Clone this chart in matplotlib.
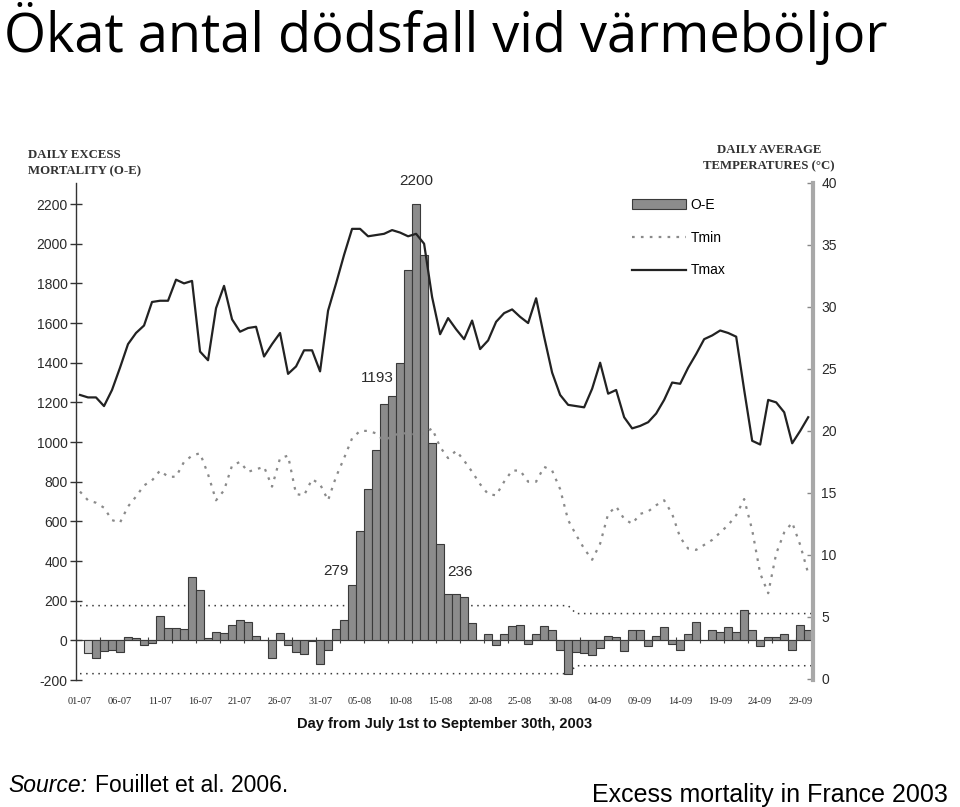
import numpy as np
import matplotlib
matplotlib.use("Agg")
import matplotlib.pyplot as plt
from matplotlib.patches import Patch
from matplotlib.lines import Line2D

plt.rcParams["axes.unicode_minus"] = False

# ======= Data =======
day_labels = ["01-07", "06-07", "11-07", "16-07", "21-07", "26-07", "31-07",
              "05-08", "10-08", "15-08", "20-08", "25-08", "30-08",
              "04-09", "09-09", "14-09", "19-09", "24-09", "29-09"]

# daily excess mortality O-E, July 1st .. September 30th
excess = [0, -64, -88, -56, -47, -57, 18, 10, -24, -13,
          125, 64, 64, 57, 317, 256, 10, 44, 37, 78,
          101, 91, 24, 0, -91, 37, -24, -61, -67, -5,
          -118, -47, 57, 104, 279, 549, 764, 960, 1193, 1232,
          1397, 1865, 2200, 1943, 993, 485, 236, 232, 219, 88,
          0, 34, -24, 34, 71, 78, -17, 34, 71, 51,
          -47, -172, -61, -64, -74, -40, 24, 17, -54, 54,
          54, -30, 24, 67, -17, -47, 30, 91, 4, 54,
          44, 67, 40, 152, 54, -30, 17, 17, 30, -50,
          78, 51]

tmax = [22.9, 22.7, 22.7, 22.0, 23.3, 25.1, 27.0, 27.9, 28.5, 30.4,
        30.5, 30.5, 32.2, 31.9, 32.1, 26.4, 25.7, 29.9, 31.7, 29.0,
        28.0, 28.3, 28.4, 26.0, 27.0, 27.9, 24.6, 25.2, 26.5, 26.5,
        24.8, 29.7, 31.9, 34.2, 36.3, 36.3, 35.7, 35.8, 35.9, 36.2,
        36.0, 35.7, 35.9, 35.1, 30.8, 27.8, 29.1, 28.2, 27.4, 28.9,
        26.6, 27.3, 28.8, 29.5, 29.8, 29.2, 28.7, 30.7, 27.6, 24.7,
        22.9, 22.1, 22.0, 21.9, 23.4, 25.5, 23.0, 23.3, 21.1, 20.2,
        20.4, 20.7, 21.4, 22.5, 23.9, 23.8, 25.1, 26.2, 27.4, 27.7,
        28.1, 27.9, 27.6, 23.3, 19.2, 18.9, 22.5, 22.3, 21.5, 19.0,
        20.0, 21.1]

tmin = [15.1, 14.4, 14.2, 13.8, 12.8, 12.6, 13.9, 14.7, 15.6, 16.0,
        16.8, 16.3, 16.3, 17.5, 18.0, 18.2, 16.5, 14.4, 15.2, 17.2,
        17.5, 16.7, 16.9, 17.1, 15.5, 17.8, 18.0, 14.9, 14.8, 16.1,
        15.7, 14.4, 16.3, 17.8, 19.4, 20.0, 20.0, 19.8, 19.2, 19.6,
        19.8, 19.8, 19.7, 19.8, 20.2, 18.7, 17.8, 18.4, 17.6, 16.7,
        15.7, 14.9, 14.8, 15.9, 16.8, 16.8, 15.9, 15.9, 17.1, 16.8,
        15.3, 12.8, 11.6, 10.5, 9.6, 10.9, 13.3, 13.9, 12.9, 12.5,
        13.3, 13.5, 14.0, 14.4, 13.3, 11.4, 10.5, 10.4, 10.8, 11.2,
        11.8, 12.4, 13.2, 14.5, 12.0, 8.5, 6.9, 10.1, 11.8, 12.6,
        10.8, 8.5]

# expected-mortality limits, two periods (summer / September)
upper_limit = [175, 135]
lower_limit = [-168, -128]
limit_switch_day = 61

annotated_days = [34, 38, 42, 46]

# ======= Figure =======
days = np.arange(len(excess))
x_end = 91.6

fig = plt.figure(figsize=(9.6, 8.07), dpi=100)
W, H = 960, 807

fig.text(4 / W, 1 - 52 / H, "Ökat antal dödsfall vid värmeböljor",
         fontsize=39, family="Open Sans", va="baseline", ha="left", color="black")

ax = fig.add_axes([76 / W, 1 - 680 / H, (813 - 76) / W, (680 - 183) / H])
ax2 = ax.twinx()

sans = "Liberation Sans"
serif = "Liberation Serif"
txt = "#2a2a2a"

# ---- bars
bars = ax.bar(days[1:], excess[1:], width=1.0, color="#8c8c8c",
              edgecolor="#3a3a3a", linewidth=0.8, zorder=2)
bars[0].set_facecolor("#c9c9c9")
ax.axhline(0, color="#444444", lw=0.8, zorder=1)
small_ticks = np.arange(-0.5, x_end, 3)[1:]
ax.plot(small_ticks, np.zeros(len(small_ticks)), ls="none", marker="|",
        ms=5, mew=0.8, color="#444444", zorder=1)

# ---- limit lines
lim_x = [0, limit_switch_day, limit_switch_day + 1, x_end]
ax.plot(lim_x, [upper_limit[0], upper_limit[0], upper_limit[1], upper_limit[1]],
        color="#3a3a3a", lw=1.1, ls=(0, (1, 3)), zorder=1)
ax.plot(lim_x, [lower_limit[0], lower_limit[0], lower_limit[1], lower_limit[1]],
        color="#3a3a3a", lw=1.1, ls=(0, (1, 3)), zorder=1)

# ---- temperatures
tmin_style = dict(color="#8a8a8a", lw=1.6, ls=(0, (1.2, 2.8)))
ax2.plot(days, tmin, **tmin_style)
ax2.plot(days, tmax, color="#222222", lw=1.6)

# ---- annotations
offsets = {34: (-16, 14), 38: (-7, 26), 42: (0, 23), 46: (12, 22)}
for d in annotated_days:
    ax.annotate(str(excess[d]), (d, excess[d]), xytext=offsets[d],
                textcoords="offset pixels", ha="center", va="center",
                fontsize=11, family=sans, color=txt, zorder=5)

# ---- axes styling
ax.set_xlim(-0.5, x_end)
ax.set_ylim(-200, 2306)
ax2.set_ylim(-0.1, 40)

for s in ["top", "right", "bottom"]:
    ax.spines[s].set_visible(False)
ax.spines["left"].set_color("#333333")
ax.spines["left"].set_linewidth(1.0)
for s in ["top", "left", "bottom"]:
    ax2.spines[s].set_visible(False)
ax2.spines["right"].set_color("#a8a8a8")
ax2.spines["right"].set_linewidth(3)

ax.set_yticks(np.arange(-200, 2201, 200))
ax.tick_params(axis="y", direction="inout", length=8, width=1, color="#333333",
               labelsize=10, labelcolor=txt, pad=2)
for lab in ax.get_yticklabels():
    lab.set_family(sans)

ax.set_xticks(days[::5])
ax.set_xticklabels(day_labels, family=serif, fontsize=7.5, color=txt)
ax.tick_params(axis="x", length=0, pad=12)
ax.set_xlabel("Day from July 1st to September 30th, 2003", family=sans,
              fontsize=10.5, fontweight="bold", color="#111111", labelpad=8)

ax2.set_yticks(np.arange(0, 41, 5))
ax2.tick_params(axis="y", direction="in", length=4, width=1, color="#888888",
                labelsize=10, labelcolor=txt, pad=6)
for lab in ax2.get_yticklabels():
    lab.set_family(sans)

# ---- axis titles
fig.text(28 / W, 1 - 149 / H, "DAILY EXCESS\nMORTALITY (O-E)", family=serif,
         fontsize=9.2, fontweight="bold", color="#333333", va="top", ha="left",
         linespacing=1.45)
fig.text(769 / W, 1 - 144 / H, "DAILY AVERAGE\nTEMPERATURES (°C)", family=serif,
         fontsize=9.2, fontweight="bold", color="#333333", va="top", ha="center",
         multialignment="center", linespacing=1.45)

# ---- legend
handles = [Patch(facecolor="#8c8c8c", edgecolor="#3a3a3a", linewidth=0.8),
           Line2D([], [], **tmin_style),
           Line2D([], [], color="#222222", lw=1.6)]
ax2.legend(handles, ["O-E", "Tmin", "Tmax"], loc="upper left",
           bbox_to_anchor=(632 / W, 1 - 198 / H), bbox_transform=fig.transFigure,
           frameon=False, handlelength=3.9, handletextpad=0.3, labelspacing=1.35,
           borderpad=0, borderaxespad=0,
           prop={"family": sans, "size": 10})

# ---- footer
fig.text(8 / W, 1 - 792 / H, "Source:", family=sans, style="italic",
         fontsize=16.5, va="baseline", ha="left", color="black")
fig.text(95 / W, 1 - 792 / H, "Fouillet et al. 2006.", family=sans,
         fontsize=16.5, va="baseline", ha="left", color="black")
fig.text(948 / W, 1 - 802 / H, "Excess mortality in France 2003", family=sans,
         fontsize=18, va="baseline", ha="right", color="black")

fig.savefig("out.png", dpi=100)
